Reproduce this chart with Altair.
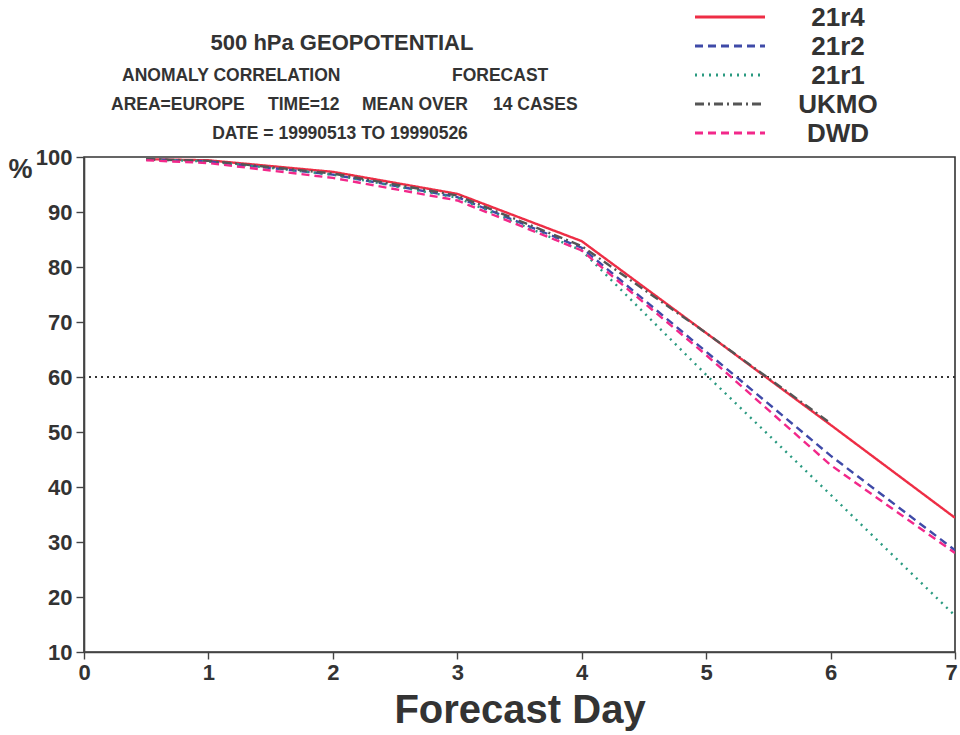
import altair as alt
import pandas as pd

# ---- data ----
days = [0.5, 1, 2, 3, 4, 5, 6, 7]
r4 = [99.6, 99.4, 97.3, 93.3, 84.7, 68.0, 51.3, 34.4]
r2 = [99.6, 99.2, 96.8, 92.7, 83.5, 64.6, 45.7, 28.5]
r1 = [99.6, 99.2, 96.8, 92.6, 83.0, 60.4, 38.6, 16.6]
ukmo_days = [0.5, 1, 2, 3, 4, 5, 6]
ukmo = [99.6, 99.3, 97.0, 93.0, 83.8, 68.0, 51.6]
dwd = [99.4, 98.9, 96.2, 92.1, 83.0, 64.0, 44.0, 28.0]

series = ["21r4", "21r2", "21r1", "UKMO", "DWD"]
colors = ["#ee2d45", "#3f4aa8", "#2a9a80", "#555555", "#f2288a"]
dashes = [[1, 0], [8, 5], [2, 5], [9, 4, 2, 4], [8, 5]]
ref_level = [60]
y_ticks = [10, 20, 30, 40, 50, 60, 70, 80, 90, 100]
x_ticks = [0, 1, 2, 3, 4, 5, 6, 7]

rows = []
for name, xs, ys in [("21r4", days, r4), ("21r2", days, r2), ("21r1", days, r1),
                     ("UKMO", ukmo_days, ukmo), ("DWD", days, dwd)]:
    for d, v in zip(xs, ys):
        rows.append({"series": name, "day": d, "acc": v})
df = pd.DataFrame(rows)
df["order"] = df["series"].map({s: i for i, s in enumerate(series)})

FONT = "Liberation Sans"
TXT = "#333333"

x_enc = alt.X("day:Q", scale=alt.Scale(domain=[0, 7], nice=False),
              axis=alt.Axis(values=x_ticks, title="Forecast Day", format="d",
                            grid=False, tickSize=7, labelPadding=3, labelFlush=False,
                            labelOffset={"condition": {"test": "datum.value === 7", "value": -4},
                                         "value": 0},
                            titleFontSize=40, titleY=70, titleBaseline="alphabetic"))
y_enc = alt.Y("acc:Q", scale=alt.Scale(domain=[10, 100], nice=False, zero=False),
              axis=alt.Axis(values=y_ticks, title="%", grid=False, tickSize=8,
                            labelPadding=4, labelFlush=False, titleAngle=0,
                            titleX=-64, titleY=12,
                            titleAlign="center", titleBaseline="middle",
                            titleFontSize=27))

lines = alt.Chart(df).mark_line(strokeWidth=2.4, clip=True).encode(
    x=x_enc,
    y=y_enc,
    color=alt.Color("series:N", scale=alt.Scale(domain=series, range=colors), legend=None),
    strokeDash=alt.StrokeDash("series:N", scale=alt.Scale(domain=series, range=dashes),
                              legend=None),
    order="order:O",
)

rule = alt.Chart(pd.DataFrame({"lvl": ref_level})).mark_rule(
    color="#333333", strokeDash=[2, 4], strokeWidth=1.8).encode(y="lvl:Q")


def label(text, x, y, size, align="left", baseline="alphabetic"):
    return alt.Chart(pd.DataFrame({"t": [text]})).mark_text(
        font=FONT, fontWeight="bold", fontSize=size, color=TXT,
        align=align, baseline=baseline).encode(
        text="t:N", x=alt.value(x), y=alt.value(y))


texts = [
    label("500 hPa GEOPOTENTIAL", 342 - 84, 50 - 157, 22, "center"),
    label("ANOMALY CORRELATION", 122 - 84, 81 - 157, 17.5),
    label("FORECAST", 452 - 84, 81 - 157, 17.5),
    label("AREA=EUROPE", 111 - 84, 110 - 157, 17.5),
    label("TIME=12", 268 - 84, 110 - 157, 17.5),
    label("MEAN OVER", 362 - 84, 110 - 157, 17.5),
    label("14 CASES", 493 - 84, 110 - 157, 17.5),
    label("DATE = 19990513 TO 19990526", 340 - 84, 139 - 157, 17.5, "center"),
]

# manual legend (top right, above the plot)
legend_rows_y = [17, 46, 75, 104, 133]
legend_layers = []
for name, col, dash, yy in zip(series, colors, dashes, legend_rows_y):
    legend_layers.append(
        alt.Chart(pd.DataFrame({"s": [name]})).mark_rule(
            color=col, strokeDash=dash, strokeWidth=3).encode(
            x=alt.value(695 - 84), x2=alt.value(765 - 84), y=alt.value(yy - 157))
    )
    legend_layers.append(label(name, 838 - 84, yy - 157 + 1, 26, "center", "middle"))

chart = alt.layer(rule, lines, *texts, *legend_layers).properties(
    width=871, height=495, autosize="none",
    padding={"left": 84, "top": 157, "right": 5, "bottom": 83},
    background="white",
).configure_view(
    stroke="#333333", strokeWidth=1.6
).configure_axis(
    labelFont=FONT, labelFontWeight="bold", labelFontSize=22, labelColor=TXT,
    titleFont=FONT, titleFontWeight="bold", titleColor=TXT,
    domainColor="#444444", domainWidth=1.6, tickColor="#444444", tickWidth=1.4,
)

chart.save("out.html", embed_options={"renderer": "svg", "actions": False})
